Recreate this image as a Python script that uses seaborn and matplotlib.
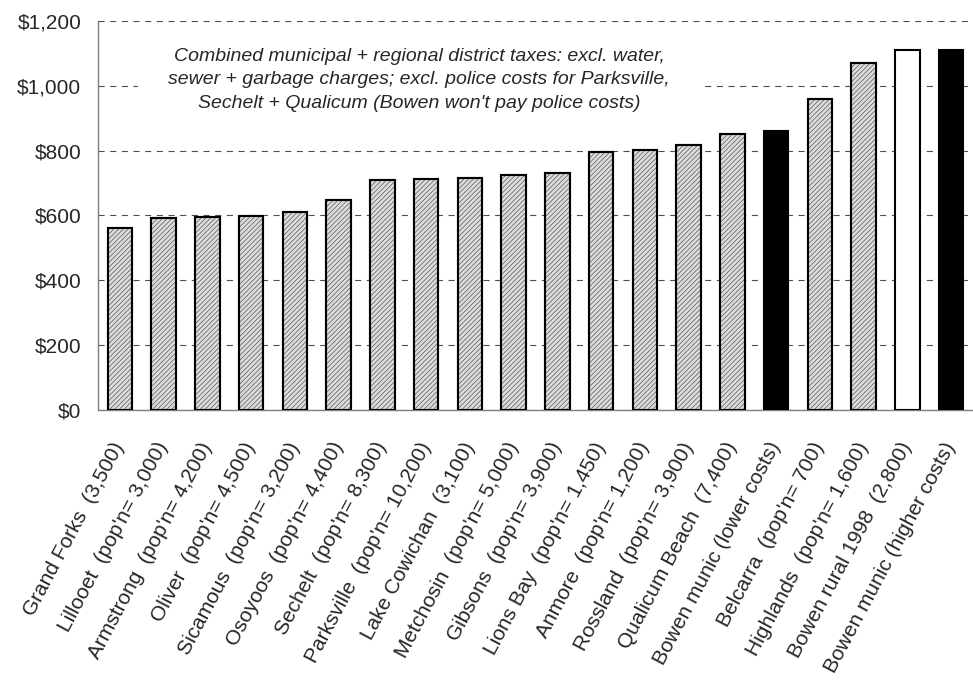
import matplotlib
matplotlib.use("Agg")
import matplotlib.pyplot as plt
import matplotlib.transforms as mtransforms
from matplotlib.patches import Rectangle
from matplotlib.ticker import FuncFormatter
import seaborn as sns
import pandas as pd

# Municipalities (with population) and combined municipal + regional district taxes
places = [
    "Grand Forks  (3,500)",
    "Lillooet  (pop'n= 3,000)",
    "Armstrong  (pop'n= 4,200)",
    "Oliver  (pop'n= 4,500)",
    "Sicamous  (pop'n= 3,200)",
    "Osoyoos  (pop'n= 4,400)",
    "Sechelt  (pop'n= 8,300)",
    "Parksville  (pop'n= 10,200)",
    "Lake Cowichan  (3,100)",
    "Metchosin  (pop'n= 5,000)",
    "Gibsons  (pop'n= 3,900)",
    "Lions Bay  (pop'n= 1,450)",
    "Anmore  (pop'n= 1,200)",
    "Rossland  (pop'n= 3,900)",
    "Qualicum Beach  (7,400)",
    "Bowen munic (lower costs)",
    "Belcarra  (pop'n= 700)",
    "Highlands  (pop'n= 1,600)",
    "Bowen rural 1998  (2,800)",
    "Bowen munic (higher costs)",
]
taxes = [560, 591, 596, 599, 610, 648, 708, 713, 716, 725, 732,
         795, 803, 817, 852, 862, 959, 1069, 1110, 1110]
groups = ["other"] * 15 + ["bowen_munic", "other", "other", "bowen_rural", "bowen_munic"]

note = ("Combined municipal + regional district taxes: excl. water,\n"
        "sewer + garbage charges; excl. police costs for Parksville,\n"
        "Sechelt + Qualicum (Bowen won't pay police costs)")

df = pd.DataFrame({"place": places, "tax": taxes, "group": groups})

sns.set_style("white")
plt.rcParams["font.family"] = ["Liberation Sans", "DejaVu Sans"]
plt.rcParams["hatch.linewidth"] = 0.5

fig = plt.figure(figsize=(9.73, 6.87), dpi=100)
ax = fig.add_axes([98 / 973, 1 - 410 / 687, 1 - 98 / 973, (410 - 21) / 687])

fills = {"other": "#dcdcdc", "bowen_munic": "black", "bowen_rural": "white"}
sns.barplot(data=df, x="place", y="tax", hue="group", palette=fills,
            dodge=False, width=0.565, legend=False, ax=ax, zorder=3,
            saturation=1)

# style each bar by its group; hatched bars get a black outline drawn on top
bars = sorted([p for p in ax.patches if p.get_height() > 0], key=lambda p: p.get_x())
for bar, g in zip(bars, groups):
    bar.set_linewidth(1.5)
    if g == "other":
        bar.set_hatch("///////")
        bar.set_edgecolor("#5a5a5a")
        ax.add_patch(Rectangle((bar.get_x(), bar.get_y()), bar.get_width(),
                               bar.get_height(), facecolor="none",
                               edgecolor="black", linewidth=1.5, zorder=3.5))
    else:
        bar.set_edgecolor("black")

ax.set_ylim(0, 1200)
ax.set_xlim(-0.5, len(places) - 0.5)
ax.set_yticks(range(0, 1201, 200))
ax.yaxis.set_major_formatter(FuncFormatter(lambda v, _: f"${v:,.0f}"))

ax.grid(axis="y", color="#4d4d4d", linewidth=0.8, linestyle=(0, (5.5, 5)), zorder=1)
ax.grid(axis="x", visible=False)

for s in ("top", "right"):
    ax.spines[s].set_visible(False)
for s in ("left", "bottom"):
    ax.spines[s].set_color("#7f7f7f")
    ax.spines[s].set_linewidth(1.0)

ax.tick_params(axis="y", length=0, pad=12, labelsize=15)
ax.tick_params(axis="x", length=0, pad=24, labelsize=15)
ax.set_xlabel("")
ax.set_ylabel("")
plt.setp(ax.get_xticklabels(), rotation=62, ha="right", va="center",
         rotation_mode="anchor")

# white panel behind the note
blend = mtransforms.blended_transform_factory(ax.transAxes, ax.transData)
ax.add_patch(Rectangle((40 / 875, 880), (703 - 138) / 875, 280,
                       transform=blend, facecolor="white", edgecolor="none",
                       zorder=2))
ax.text(0.367, 1018, note, transform=blend, ha="center", va="center",
        fontsize=14, style="italic", linespacing=1.5, zorder=4)

fig.savefig("out.png", dpi=100)
